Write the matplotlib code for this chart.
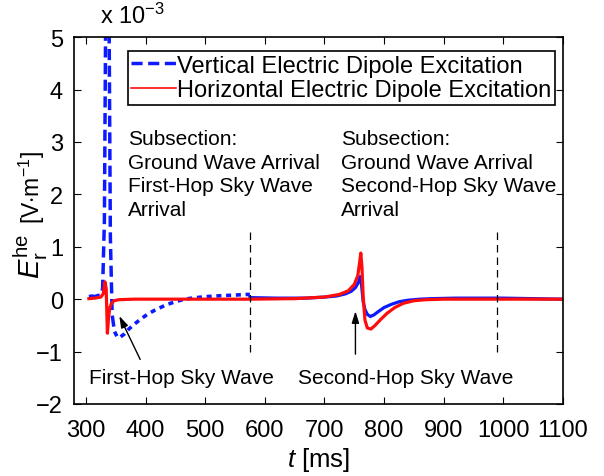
import matplotlib
matplotlib.use("Agg")
import matplotlib.pyplot as plt

plt.rcParams["font.family"] = ["Liberation Sans", "DejaVu Sans"]
plt.rcParams["mathtext.fontset"] = "custom"
plt.rcParams["mathtext.rm"] = "Liberation Sans"
plt.rcParams["mathtext.it"] = "Liberation Sans:italic"

# vertical electric dipole, first subsection (dashed), values in 1e-3 V/m
ved_t1 = [305, 310, 315, 320, 325, 328, 331, 334, 338, 341, 344, 348, 353,
          358, 365, 372, 382, 392, 403, 414, 425, 436, 450, 465, 485, 504,
          525, 549, 569, 575]
ved_v1 = [0.05, 0.06, 0.05, 0.07, 0.08, 0.2, 1.5, 7.0, 7.0, 1.2, -0.3,
          -0.62, -0.73, -0.72, -0.66, -0.57, -0.47, -0.38, -0.29, -0.22,
          -0.16, -0.1, -0.05, 0.0, 0.03, 0.05, 0.065, 0.077, 0.09, 0.09]

# vertical electric dipole, later part (solid)
ved_t2 = [575, 620, 670, 700, 720, 735, 745, 752, 757, 760, 762, 765, 768,
          772, 777, 783, 790, 800, 812, 825, 840, 860, 880, 920, 1000, 1100]
ved_v2 = [0.03, 0.02, 0.02, 0.04, 0.06, 0.1, 0.15, 0.22, 0.32, 0.43, 0.3,
          -0.05, -0.2, -0.29, -0.33, -0.3, -0.24, -0.16, -0.1, -0.05,
          -0.02, 0.0, 0.01, 0.02, 0.02, 0.0]

# horizontal electric dipole
hed_t = [305, 315, 325, 329, 332, 334, 336, 338, 340, 343, 347, 355, 380,
         450, 575, 650, 700, 725, 740, 750, 756, 759, 761, 763, 765, 768,
         772, 778, 785, 795, 805, 818, 832, 850, 870, 900, 1000, 1100]
hed_v = [0.01, 0.02, 0.04, 0.1, 0.33, 0.2, -0.65, -0.35, -0.16, -0.08,
         -0.03, -0.01, 0.0, 0.0, 0.0, 0.01, 0.04, 0.09, 0.16, 0.28, 0.45,
         0.7, 0.88, 0.6, 0.05, -0.4, -0.55, -0.57, -0.5, -0.38, -0.27,
         -0.16, -0.08, -0.03, -0.01, 0.0, 0.0, 0.0]

subsection_edges = [575, 990]
subsection_text = [
    "Subsection:\nGround Wave Arrival\nFirst-Hop Sky Wave\nArrival",
    "Subsection:\nGround Wave Arrival\nSecond-Hop Sky Wave\nArrival",
]
subsection_x = [370, 728]

# sky wave labels: text position, arrow tail, arrow tip
sky_labels = ["First-Hop Sky Wave", "Second-Hop Sky Wave"]
sky_text_x = [306, 656]
sky_tail = [(391, -1.15), (752, -1.05)]
sky_tip = [(356, -0.32), (752, -0.23)]

fig = plt.figure(figsize=(6.04, 4.77), dpi=100)
ax = fig.add_axes([0.1225, 0.151, 0.8095, 0.769])

blue = (0.05, 0.1, 1.0)
red = (1.0, 0.05, 0.05)

# the dashed VED curve: longer dashes on the spike, short ones on the tail
ax.plot(ved_t1[:12], ved_v1[:12], color=blue, lw=2.5, dashes=(3.2, 1.6),
        label="Vertical Electric Dipole Excitation")
ax.plot(ved_t1[11:], ved_v1[11:], color=blue, lw=2.6, dashes=(1.4, 1.3))
ax.plot(ved_t2, ved_v2, color=blue, lw=2.3)
ax.plot(hed_t, hed_v, color=red, lw=2.3,
        label="Horizontal Electric Dipole Excitation")

for t in subsection_edges:
    ax.plot([t, t], [-1.0, 1.3], color="black", lw=0.9, dashes=(6, 4))

ax.set_xlim(280, 1100)
ax.set_ylim(-2, 5)
ax.set_xticks(range(300, 1101, 100))
ax.set_yticks(range(-2, 6))
ax.set_yticklabels(["\u22122", "\u22121", "0", "1", "2", "3", "4", "5"])
ax.tick_params(direction="in", top=True, right=True, labelsize=17,
               length=5, width=0.8)
ax.tick_params(axis="x", pad=11)
ax.tick_params(axis="y", pad=8)
for s in ax.spines.values():
    s.set_linewidth(1.2)

ax.set_xlabel("$t$ [ms]", fontsize=18.5, labelpad=3)
fig.text(31 / 604, 1 - 279 / 477, r"$E_\mathrm{r}^\mathrm{he}$", fontsize=21,
         rotation=90, ha="center", va="bottom")
fig.text(32 / 604, 1 - 224 / 477, r"[V$\cdot$m$^{-1}$]", fontsize=16.5,
         rotation=90, ha="center", va="bottom")
fig.text(0.165, 0.94, r"x 10$^{-3}$", fontsize=17, va="bottom")

leg = ax.legend(loc="upper right", bbox_to_anchor=(0.984, 0.962),
                fontsize=17, fancybox=False, framealpha=1,
                edgecolor="black", handlelength=1.9, handletextpad=0.05,
                borderpad=0.15, labelspacing=0.1, borderaxespad=0)
leg.get_frame().set_linewidth(1.2)
leg.get_lines()[1].set_linewidth(1.2)

for x, txt in zip(subsection_x, subsection_text):
    ax.text(x, 3.24, txt, fontsize=15, va="top", ha="left", linespacing=1.3)

for lab, tx, tail, tip in zip(sky_labels, sky_text_x, sky_tail, sky_tip):
    ax.text(tx, -1.49, lab, fontsize=15, ha="left", va="center")
    ax.annotate("", xy=tip, xytext=tail,
                arrowprops=dict(arrowstyle="-|>,head_length=0.7,head_width=0.22",
                                color="black", lw=1.0, shrinkA=0, shrinkB=0))

fig.savefig("out.png", dpi=100)
